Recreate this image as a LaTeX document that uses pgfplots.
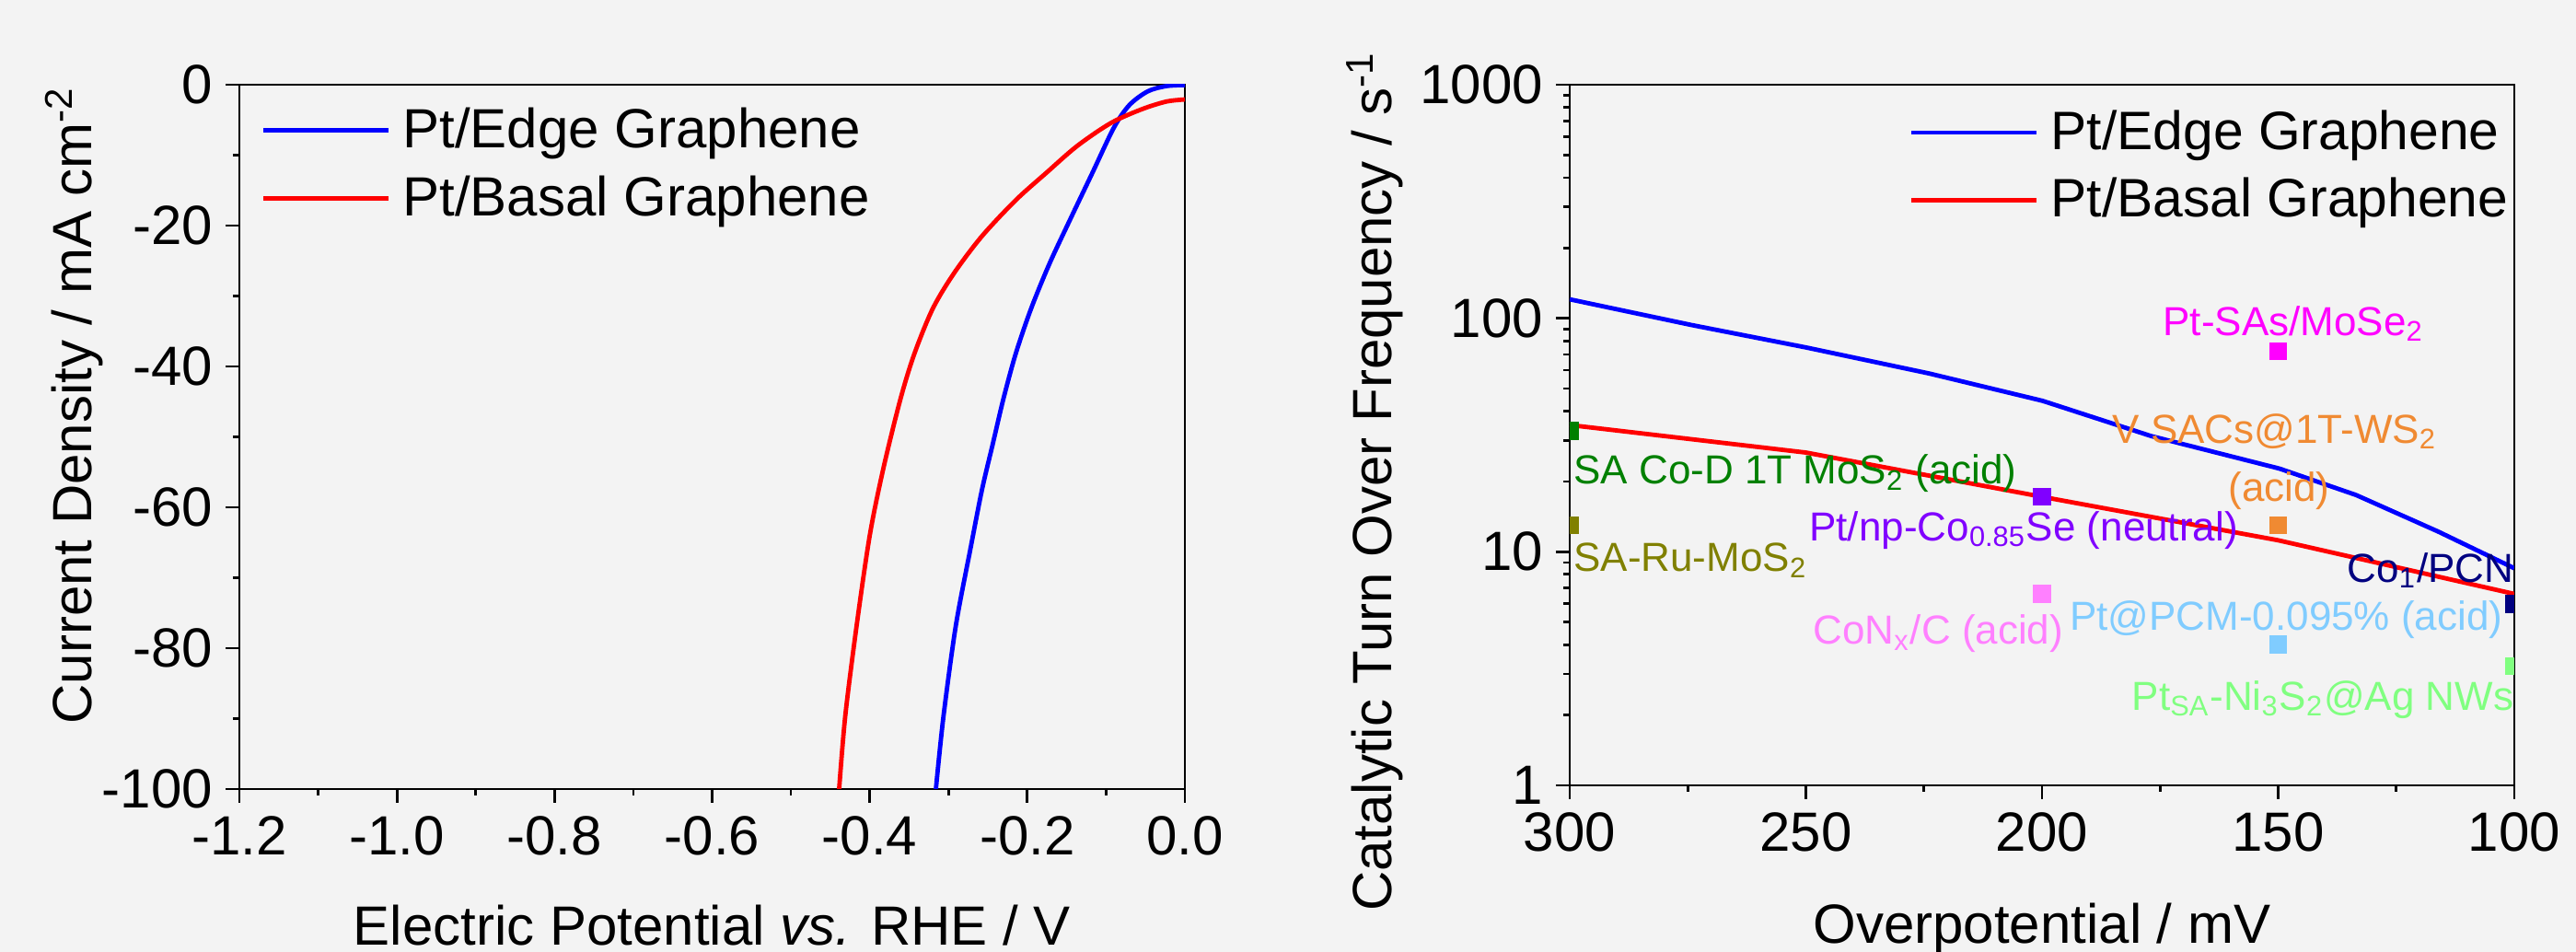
\documentclass[border=0pt]{standalone}
\usepackage{fontspec}
\setmainfont{Liberation Sans}
\usepackage{pgfplots}
\pgfplotsset{compat=1.18}
\definecolor{bgc}{HTML}{F3F3F3}
\definecolor{cgreen}{HTML}{008000}
\definecolor{colive}{HTML}{808000}
\definecolor{cviolet}{HTML}{8000FF}
\definecolor{cpink}{HTML}{FF80FF}
\definecolor{cmagenta}{HTML}{FF00FF}
\definecolor{corange}{HTML}{F08A32}
\definecolor{clblue}{HTML}{80CCFF}
\definecolor{cnavy}{HTML}{000080}
\definecolor{clgreen}{HTML}{80FF80}

\tikzset{note/.style={font=\fontsize{11}{13}\selectfont, inner sep=0pt}}

\pgfplotsset{
    panel/.style={
        scale only axis,
        axis line style={line width=0.7pt},
        every tick/.style={line width=0.7pt, black},
        tick align=outside,
        xtick pos=left,
        ytick pos=left,
        major tick length=3.75pt,
        minor tick length=1.75pt,
        tick label style={font=\fontsize{15}{18}\selectfont},
        /pgf/number format/assume math mode=true,
        legend cell align=left,
        legend image code/.code={\draw[##1] (0pt,0pt) -- (34pt,0pt);},
        legend style={anchor=north west, draw=none, fill=none,
            inner sep=0pt, row sep=6.2pt, column sep=3.25pt,
            nodes={inner sep=0pt},
            font=\fontsize{15}{18}\selectfont},
    },
}

\begin{document}
\begin{tikzpicture}
\fill[bgc] (0,0) rectangle (699.5pt,258.5pt);

% left panel: polarisation curves
\begin{axis}[
    panel,
    at={(65pt,44.25pt)}, anchor=south west,
    width=256.75pt, height=191.25pt,
    xmin=-1.2, xmax=0, ymin=-100, ymax=0,
    xtick={-1.2,-1.0,-0.8,-0.6,-0.4,-0.2,0},
    xticklabels={-1.2,-1.0,-0.8,-0.6,-0.4,-0.2,0.0},
    ytick={-100,-80,-60,-40,-20,0},
    yticklabels={-100,-80,-60,-40,-20,0},
    minor x tick num=1, minor y tick num=1,
    every axis x label/.style={at={([yshift=-42.5pt]axis description cs:0.5,0)}, anchor=base, font=\fontsize{15}{18}\selectfont},
    every axis y label/.style={at={([xshift=-40.25pt]axis description cs:0,0.545)}, rotate=90, anchor=base, font=\fontsize{15}{18}\selectfont},
    xlabel={Electric Potential \textit{vs.} RHE / V},
    ylabel={Current Density / mA cm\textsuperscript{-2}},
    legend style={at={(rel axis cs:0,1)}, xshift=5.75pt, yshift=-6pt},
]
\addplot[blue, line width=1.2pt, smooth] coordinates {
    (-0.3160,-100) (-0.3063,-89.6) (-0.2907,-76.8) (-0.2720,-65.8) (-0.2575,-57.5)
    (-0.2440,-51.1) (-0.2303,-44.6) (-0.2147,-38.2) (-0.1952,-31.8) (-0.1718,-25.4)
    (-0.1446,-18.9) (-0.1173,-12.5) (-0.0901,-6.1) (-0.0705,-2.9) (-0.0472,-0.95)
    (-0.0237,-0.2) (0,-0.05)};
\addlegendentry{Pt/Edge Graphene}
\addplot[red, line width=1.2pt, smooth] coordinates {
    (-0.4388,-100) (-0.4310,-89.6) (-0.4166,-76.8) (-0.3998,-63.9) (-0.3823,-54.3)
    (-0.3609,-44.6) (-0.3433,-38.2) (-0.3200,-31.8) (-0.2926,-26.7) (-0.2575,-21.5)
    (-0.2147,-16.4) (-0.1757,-12.5) (-0.1367,-8.7) (-0.0940,-5.45) (-0.0550,-3.5)
    (-0.0237,-2.4) (0,-2.1)};
\addlegendentry{Pt/Basal Graphene}
\end{axis}

% right panel: turnover frequency
\begin{axis}[
    panel,
    at={(426.25pt,45.25pt)}, anchor=south west,
    width=256.5pt, height=190.25pt,
    ymode=log,
    x dir=reverse,
    xmin=100, xmax=300, ymin=1, ymax=1000,
    xtick={100,150,200,250,300},
    minor x tick num=1,
    ytick={1,10,100,1000},
    yticklabels={1,10,100,1000},
    clip marker paths=true,
    every axis x label/.style={at={([yshift=-43pt]axis description cs:0.5,0)}, anchor=base, font=\fontsize{15}{18}\selectfont},
    every axis y label/.style={at={([xshift=-48.25pt]axis description cs:0,0.434)}, rotate=90, anchor=base, font=\fontsize{15}{18}\selectfont},
    xlabel={Overpotential / mV},
    ylabel={Catalytic Turn Over Frequency / s\textsuperscript{-1}},
    legend style={at={(rel axis cs:0,1)}, xshift=92pt, yshift=-6.75pt, font=\fontsize{14.7}{17.6}\selectfont},
]
\addplot[blue, line width=1.2pt] coordinates {
    (300,120.5) (274.3,93.6) (250,75.0) (223.9,58.0) (199.9,44.3)
    (176.9,31.3) (149.7,22.7) (133.5,17.5) (116.1,12.2) (100,8.5)};
\addlegendentry{Pt/Edge Graphene}
\addplot[red, line width=1.2pt] coordinates {
    (300,34.9) (250,26.6) (200,17.2) (150,11.2) (100,6.6)};
\addlegendentry{Pt/Basal Graphene}

\addplot[only marks, mark=square*, mark size=2.25pt, cgreen, forget plot] coordinates {(300,32.9)};
\addplot[only marks, mark=square*, mark size=2.25pt, colive, forget plot] coordinates {(300,13.0)};
\addplot[only marks, mark=square*, mark size=2.25pt, cviolet, forget plot] coordinates {(200,17.2)};
\addplot[only marks, mark=square*, mark size=2.25pt, cpink, forget plot] coordinates {(200,6.6)};
\addplot[only marks, mark=square*, mark size=2.25pt, cmagenta, forget plot] coordinates {(150,72.3)};
\addplot[only marks, mark=square*, mark size=2.25pt, corange, forget plot] coordinates {(150,13.0)};
\addplot[only marks, mark=square*, mark size=2.25pt, clblue, forget plot] coordinates {(150,4.0)};
\addplot[only marks, mark=square*, mark size=2.25pt, cnavy, forget plot] coordinates {(100,5.97)};
\addplot[only marks, mark=square*, mark size=2.25pt, clgreen, forget plot] coordinates {(100,3.24)};

\node[note, text=cgreen, anchor=mid west] at (axis cs:299.3,21.5) {SA Co-D 1T MoS\textsubscript{2} (acid)};
\node[note, text=colive, anchor=mid west] at (axis cs:299.3,9.08) {SA-Ru-MoS\textsubscript{2}};
\node[note, text=cviolet, anchor=mid west] at (axis cs:249.4,12.3) {Pt/np-Co\textsubscript{0.85}Se (neutral)};
\node[note, text=cpink, anchor=mid west] at (axis cs:248.6,4.43) {CoN\textsubscript{x}/C (acid)};
\node[note, text=cmagenta, anchor=mid west] at (axis cs:174.5,93) {Pt-SAs/MoSe\textsubscript{2}};
\node[note, text=corange, anchor=mid] at (axis cs:150.7,32.1) {V SACs@1T-WS\textsubscript{2}};
\node[note, text=corange, anchor=mid] at (axis cs:149.8,18.1) {(acid)};
\node[note, text=cnavy, anchor=mid east] at (axis cs:100,8.18) {Co\textsubscript{1}/PCN};
\node[note, text=clblue, anchor=mid east] at (axis cs:102.3,5.08) {Pt@PCM-0.095\% (acid)};
\node[note, text=clgreen, anchor=mid east] at (axis cs:100,2.31) {Pt\textsubscript{SA}-Ni\textsubscript{3}S\textsubscript{2}@Ag NWs};
\end{axis}

\pgfresetboundingbox
\useasboundingbox (0,0) rectangle (699.5pt,258.5pt);
\end{tikzpicture}
\end{document}
